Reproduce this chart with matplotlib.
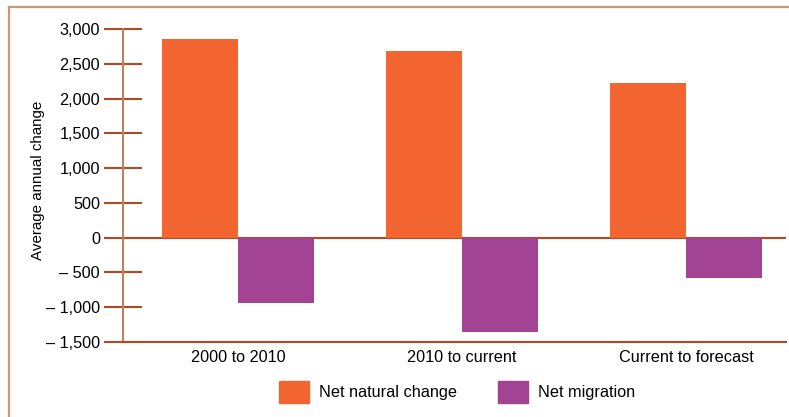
import matplotlib
matplotlib.use("Agg")
import matplotlib.pyplot as plt
from matplotlib.patches import Patch
from matplotlib.lines import Line2D
import numpy as np

plt.rcParams['font.family'] = ['Liberation Sans', 'DejaVu Sans']

categories = ["2000 to 2010", "2010 to current", "Current to forecast"]
natural_change = [2850, 2690, 2230]
net_migration = [-940, -1360, -580]
series_names = ["Net natural change", "Net migration"]
yticks = [3000, 2500, 2000, 1500, 1000, 500, 0, -500, -1000, -1500]

ORANGE = "#F26531"
PURPLE = "#A34394"
TICK_COL = "#B04A25"
SPINE_COL = "#C08060"
FRAME_COL = "#C9957D"


def fmt(v):
    s = f"{abs(v):,}"
    return ("\u2013 " + s) if v < 0 else s


W, H = 789, 417
fig = plt.figure(figsize=(W / 100, H / 100), dpi=100)
ax = fig.add_axes([123 / W, 1 - 342 / H, (786 - 123) / W, (342 - 29) / H])

x = np.arange(len(categories))
bw = 0.34
ax.axhline(0, color=TICK_COL, lw=1.5, zorder=1)
ax.bar(x - bw / 2, natural_change, width=bw, color=ORANGE, zorder=2)
ax.bar(x + bw / 2, net_migration, width=bw, color=PURPLE, zorder=2)

ax.set_xlim(-0.513, 2.446)
ax.set_ylim(-1500, 3000)
ax.set_yticks(yticks)
ax.set_yticklabels([fmt(v) for v in yticks], fontsize=11.7)
ax.set_xticks(x)
ax.set_xticklabels(categories, fontsize=11.7)
ax.tick_params(axis='x', length=0, pad=6)
ax.tick_params(axis='y', direction='inout', length=27, width=1.5,
               color=TICK_COL, pad=3)

for side in ("top", "right"):
    ax.spines[side].set_visible(False)
ax.spines['left'].set_color(SPINE_COL)
ax.spines['left'].set_linewidth(1.5)
ax.spines['bottom'].set_color(TICK_COL)
ax.spines['bottom'].set_linewidth(1.5)

ax.set_ylabel("Average annual change", fontsize=10.9)
ax.yaxis.set_label_coords(-0.118, 0.515)

# outer frame: left and top edges
fig.add_artist(Line2D([9 / W, 9 / W], [0, 1 - 7 / H], color=FRAME_COL,
                      lw=1.6, transform=fig.transFigure))
fig.add_artist(Line2D([9 / W, 1], [1 - 7 / H, 1 - 7 / H], color=FRAME_COL,
                      lw=1.6, transform=fig.transFigure))

handles = [Patch(color=ORANGE), Patch(color=PURPLE)]
fig.legend(handles, series_names, loc='center left',
           bbox_to_anchor=(279 / W, 1 - 392 / H), ncol=2, frameon=False,
           fontsize=11.7, handlelength=1.875, handleheight=1.69,
           handletextpad=0.56, columnspacing=2.55, borderpad=0,
           borderaxespad=0)

fig.savefig("out.png", dpi=100)
